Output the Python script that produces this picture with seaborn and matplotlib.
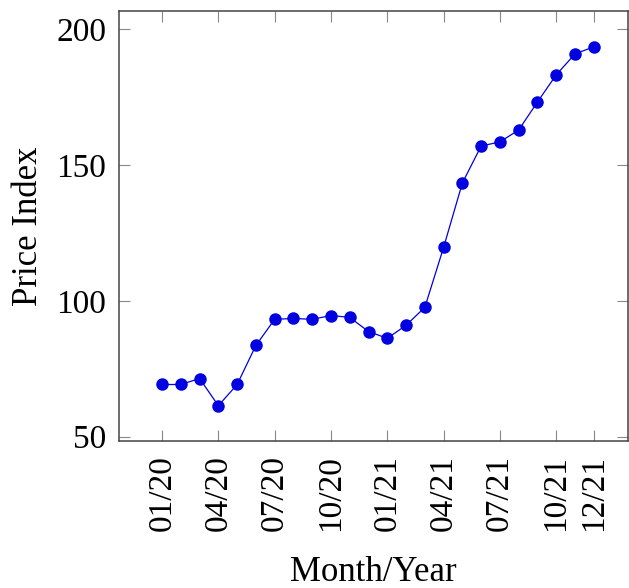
import matplotlib
matplotlib.use("Agg")
import matplotlib.pyplot as plt
import seaborn as sns
import pandas as pd

months = ["01/20", "02/20", "03/20", "04/20", "05/20", "06/20", "07/20", "08/20",
          "09/20", "10/20", "11/20", "12/20", "01/21", "02/21", "03/21", "04/21",
          "05/21", "06/21", "07/21", "08/21", "09/21", "10/21", "11/21", "12/21"]
price_index = [69.2, 69.2, 71.4, 61.4, 69.2, 83.6, 93.2, 93.5, 93.2, 94.6, 93.9, 88.7,
               86.2, 91.0, 97.6, 119.7, 143.4, 157.0, 158.5, 162.9, 173.2, 183.2, 190.9, 193.5]
tick_labels = ["01/20", "04/20", "07/20", "10/20", "01/21", "04/21", "07/21", "10/21", "12/21"]
y_ticks = [50, 100, 150, 200]

sns.set_theme(style="white")
plt.rcParams["font.family"] = ["Liberation Serif", "DejaVu Serif"]

df = pd.DataFrame({"idx": range(len(months)), "month": months, "price": price_index})

fig = plt.figure(figsize=(6.29, 5.88), dpi=100)
ax = fig.add_axes([0.1887, 0.25, 0.8105, 0.7313])

sns.lineplot(data=df, x="idx", y="price", ax=ax, color="#0000E0", linewidth=0.9,
             marker="o", markersize=9, markeredgewidth=0, markerfacecolor="#0000E0")

tick_pos = [months.index(t) for t in tick_labels]
ax.set_xticks(tick_pos)
ax.set_xticklabels(tick_labels, rotation=90)
ax.set_yticks(y_ticks)
ax.set_xlim(-2.31, 24.85)
ax.set_ylim(48.4, 206.7)

ax.tick_params(axis="both", which="both", direction="in", length=8, width=0.8,
               color="#888888", labelsize=24, top=True, right=True,
               bottom=True, left=True, labelcolor="black")
ax.tick_params(axis="x", pad=10)
ax.tick_params(axis="y", pad=9)
for s in ax.spines.values():
    s.set_color("#444444")
    s.set_linewidth(1.1)

ax.set_xlabel("Month/Year", fontsize=25, color="black", labelpad=18)
ax.set_ylabel("Price Index", fontsize=25, color="black", labelpad=8)

fig.savefig("out.png", dpi=100)
